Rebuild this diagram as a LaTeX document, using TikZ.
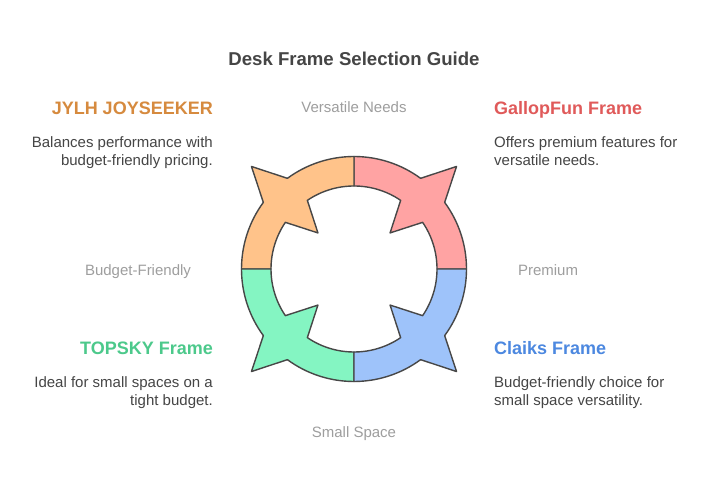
\documentclass[tikz,border=0pt]{standalone}
\usepackage{fontspec}
\setmainfont{Liberation Sans}
\usetikzlibrary{calc}
\definecolor{fpink}{HTML}{FFA3A3}
\definecolor{forange}{HTML}{FFC38A}
\definecolor{fgreen}{HTML}{84F5C2}
\definecolor{fblue}{HTML}{9EC3FA}
\definecolor{tred}{HTML}{E05A5A}
\definecolor{torange}{HTML}{D68A3E}
\definecolor{tgreen}{HTML}{4CC98B}
\definecolor{tblue}{HTML}{4C88E0}
\definecolor{tbody}{HTML}{454545}
\definecolor{tgray}{HTML}{9E9E9E}
\definecolor{tstroke}{HTML}{474747}
\begin{document}
\begin{tikzpicture}[x=1pt,y=1pt,
  seg/.style={draw=tstroke,line width=1.4pt,line join=round},
  ttl/.style={font=\fontsize{18.6}{22}\selectfont\bfseries,text=tbody,inner sep=0},
  head/.style={font=\fontsize{18}{21}\selectfont\bfseries,inner sep=0},
  body/.style={font=\fontsize{15}{18}\selectfont,text=tbody,inner sep=0},
  lbl/.style={font=\fontsize{15}{17}\selectfont,text=tgray,inner sep=0}]
\useasboundingbox (0,0) rectangle (720,492);
\fill[white] (0,0) rectangle (720,492);
\def\Ro{112.5}\def\Ri{83}
\begin{scope}[shift={(354,223)}]
\foreach \a/\c in {0/fpink,90/forange,180/fgreen,270/fblue}{
  \pgfmathsetmacro\ca{\a+45}
  \pgfmathsetmacro\oa{\a+36.3}
  \pgfmathsetmacro\ob{\a+53.7}
  \pgfmathsetmacro\ia{\a+55.8}
  \pgfmathsetmacro\ib{\a+34.2}
  \pgfmathsetmacro\ae{\a+90}
  \path[seg,fill=\c] (\a:\Ro) arc[start angle=\a,end angle=\oa,radius=\Ro]
    -- (\ca:145) -- (\ob:\Ro) arc[start angle=\ob,end angle=\ae,radius=\Ro]
    -- (\ae:\Ri) arc[start angle=\ae,end angle=\ia,radius=\Ri]
    -- (\ca:51) -- (\ib:\Ri) arc[start angle=\ib,end angle=\a,radius=\Ri] -- cycle;
}
\end{scope}
\node[ttl,anchor=base] (title) at (354,426) {Desk Frame Selection Guide};
\node[head,text=torange,anchor=base east] (h1) at (213,377) {JYLH JOYSEEKER};
\node[body,anchor=north east,align=right] (b1) at (213,356) {Balances performance with\\budget-friendly pricing.};
\node[head,text=tred,anchor=base west] (h2) at (494,377) {GallopFun Frame};
\node[body,anchor=north west,align=left] (b2) at (494,356) {Offers premium features for\\versatile needs.};
\node[head,text=tgreen,anchor=base east] (h3) at (213,137) {TOPSKY Frame};
\node[body,anchor=north east,align=right] (b3) at (213,116) {Ideal for small spaces on a\\tight budget.};
\node[head,text=tblue,anchor=base west] (h4) at (494,137) {Claiks Frame};
\node[body,anchor=north west,align=left] (b4) at (494,116) {Budget-friendly choice for\\small space versatility.};
\node[lbl,anchor=base] (l1) at (354,379) {Versatile Needs};
\node[lbl,anchor=base] (l2) at (138,216.5) {Budget-Friendly};
\node[lbl,anchor=base] (l3) at (548,216.5) {Premium};
\node[lbl,anchor=base] (l4) at (354,54) {Small Space};
\end{tikzpicture}
\end{document}
